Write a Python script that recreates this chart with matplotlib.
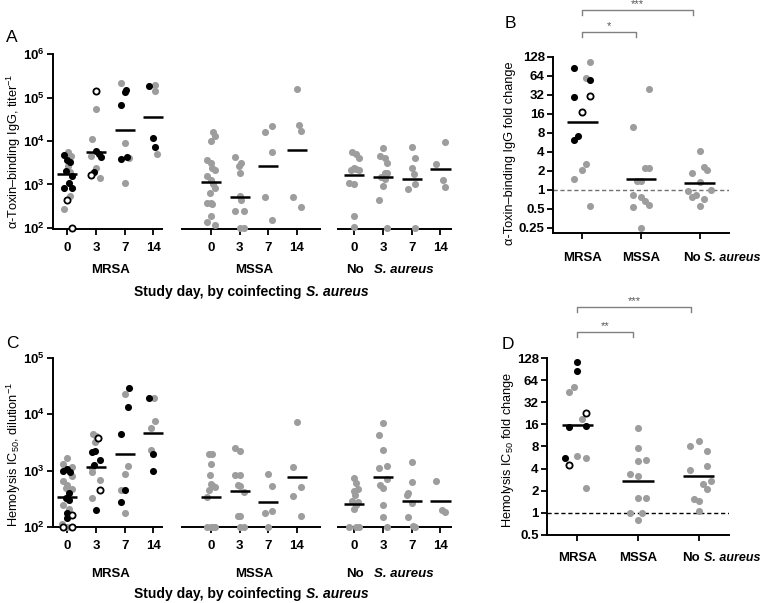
import matplotlib
matplotlib.use('Agg')
import matplotlib.pyplot as plt
import matplotlib.transforms as mtransforms
from matplotlib.ticker import NullLocator, FixedLocator

plt.rcParams['font.family'] = ['Liberation Sans', 'DejaVu Sans']
plt.rcParams['mathtext.fontset'] = 'custom'
plt.rcParams['mathtext.rm'] = 'Liberation Sans'
plt.rcParams['mathtext.it'] = 'Liberation Sans:italic'
plt.rcParams['mathtext.bf'] = 'Liberation Sans:bold'

GREY = '#9d9d9d'

# ---------------- data ----------------
days = ['0', '3', '7', '14']
groups = ['MRSA', 'MSSA', 'No']

# Panel A: alpha-toxin-binding IgG titer, by group and day
titer_MRSA = [[4800, 5500, 4600, 3600, 3300, 2600, 2000, 1900, 1550, 1070, 830, 830, 540, 440, 280, 100],
              [144000, 54000, 11200, 6000, 5000, 4400, 4200, 2450, 1960, 1650, 1380],
              [215000, 150000, 132000, 68000, 9100, 4300, 4000, 3800, 1070],
              [190000, 187000, 140000, 11500, 7400, 5000]]
titer_MRSA_kind = ['kggkkgkgkkkkgogo', 'oggkkgkgkog', 'gkkkgkgkg', 'gkgkkg']
titer_MRSA_jit = [[-0.12, 0.01, 0.12, -0.02, 0.10, 0.02, -0.03, 0.08, 0.18, 0.06, -0.12, 0.16, 0.08, 0.0, -0.12, 0.15],
                  [0.0, 0.0, -0.14, -0.01, 0.12, -0.16, 0.17, 0.0, -0.06, -0.16, 0.13],
                  [-0.14, 0.05, 0.0, -0.14, 0.0, 0.07, 0.15, -0.14, 0.0],
                  [0.06, -0.14, 0.05, 0.0, 0.06, 0.14]]
titer_MSSA = [[16000, 13000, 10200, 3600, 3100, 2350, 2100, 1590, 1260, 1020, 810, 620, 380, 380, 365, 186, 138, 120],
              [4350, 3100, 2700, 1800, 530, 440, 250, 250, 100, 100],
              [22500, 16000, 5500, 520, 150],
              [158000, 23500, 17000, 520, 300]]
titer_MSSA_jit = [[0.09, 0.13, 0.0, -0.14, 0.0, 0.03, 0.13, -0.14, 0.0, 0.07, 0.13, -0.02, -0.14, 0.0, 0.03, 0.0, -0.14, 0.15],
                  [-0.15, 0.05, -0.03, 0.0, 0.0, 0.05, -0.15, 0.14, 0.0, 0.14],
                  [0.14, -0.13, 0.14, -0.13, 0.14],
                  [0.0, 0.07, 0.13, -0.14, 0.13]]
titer_No = [[5700, 5000, 4000, 2450, 2230, 2150, 2100, 1070, 1020, 186, 105],
            [7000, 4550, 4000, 3100, 1860, 1800, 1450, 1310, 920, 440, 100],
            [7100, 4150, 2420, 1700, 1000, 770, 100],
            [9300, 2900, 1260, 890]]
titer_No_jit = [[-0.08, 0.06, 0.15, 0.0, 0.06, -0.12, 0.15, -0.17, 0.0, 0.0, 0.0],
                [0.0, -0.09, 0.06, 0.14, 0.06, 0.12, -0.06, 0.06, -0.02, -0.15, 0.12],
                [0.0, 0.12, 0.0, 0.06, 0.12, -0.12, 0.12],
                [0.14, -0.14, 0.08, 0.14]]
titer_MRSA_med = [1700, 5700, 18000, 35700]
titer_MSSA_med = [1150, 520, 2700, 6200]
titer_No_med = [1650, 1510, 1360, 2270]

# Panel C: hemolysis IC50
ic50_MRSA = [[1700, 1300, 1150, 1000, 1050, 950, 800, 650, 550, 500, 470, 400, 330, 300, 250, 210, 180, 165, 145, 115, 100, 100, 100],
             [4500, 4150, 3800, 3200, 2200, 2100, 1550, 1250, 1100, 930, 670, 450, 330, 200],
             [28800, 22300, 13200, 4460, 1230, 870, 460, 450, 280, 180],
             [19500, 19000, 7500, 5600, 2360, 1930, 990]]
ic50_MRSA_kind = ['gggkkkgggggkkkggkokgoog', 'ggogkkkkgggogk', 'kgkkgggkkg', 'kggggkk']
ic50_MRSA_jit = [[0.0, -0.15, 0.15, -0.15, 0.0, 0.1, 0.18, -0.15, 0.0, -0.05, 0.15, 0.05, -0.05, 0.05, -0.15, 0.05, 0.0, 0.15, -0.02, -0.18, -0.15, 0.15, 0.0],
                 [-0.1, 0.0, 0.08, -0.03, -0.05, -0.14, 0.13, -0.08, -0.14, -0.14, 0.13, 0.13, -0.14, 0.0],
                 [0.15, 0.0, 0.13, -0.14, 0.13, 0.0, -0.14, 0.0, -0.14, 0.0],
                 [-0.14, 0.02, 0.05, -0.07, -0.09, 0.0, 0.0]]
ic50_MSSA = [[1940, 1940, 1310, 820, 580, 525, 505, 460, 340, 100, 100, 100, 100],
             [2500, 2240, 820, 820, 550, 540, 415, 154, 154, 100, 100],
             [870, 530, 195, 180, 100],
             [7400, 1140, 510, 350, 158]]
ic50_MSSA_jit = [[-0.08, 0.03, 0.0, -0.02, 0.0, 0.06, 0.15, -0.08, -0.14, -0.14, 0.0, 0.09, 0.15],
                 [-0.15, 0.02, -0.15, 0.02, -0.06, 0.0, 0.14, -0.07, 0.02, 0.02, 0.14],
                 [0.0, 0.14, 0.14, -0.13, 0.0],
                 [0.0, -0.14, 0.13, -0.14, 0.13]]
ic50_No = [[740, 600, 480, 440, 375, 290, 280, 250, 205, 100, 100, 100],
           [6900, 4300, 2300, 1230, 1100, 715, 550, 490, 250, 148, 100],
           [1400, 630, 400, 375, 270, 148, 104, 100],
           [660, 198, 187]]
ic50_No_jit = [[0.0, 0.06, 0.12, 0.0, 0.03, -0.08, 0.12, 0.06, -0.03, -0.17, 0.06, 0.15],
               [0.0, -0.15, 0.0, 0.12, -0.14, 0.12, -0.09, 0.0, 0.0, 0.0, 0.14],
               [0.0, 0.0, -0.12, -0.17, 0.0, -0.12, 0.03, 0.12],
               [-0.14, 0.06, 0.14]]
ic50_MRSA_med = [340, 1180, 1950, 4600]
ic50_MSSA_med = [345, 440, 278, 760]
ic50_No_med = [260, 775, 295, 285]

# Panel B: IgG fold change
fcB_MRSA = [106, 87, 60, 56, 30.5, 29.3, 17.2, 7.2, 6.3, 2.56, 2.07, 1.47, 0.55]
fcB_MRSA_kind = 'gkgkokokkgggg'
fcB_MRSA_jit = [0.13, -0.14, 0.07, 0.13, 0.13, -0.14, 0.0, -0.07, -0.14, 0.07, 0.0, -0.14, 0.13]
fcB_MSSA = [39.5, 10.1, 2.26, 2.2, 1.38, 1.38, 0.82, 0.77, 0.66, 0.57, 0.53, 0.25]
fcB_MSSA_jit = [0.13, -0.13, 0.07, 0.13, -0.07, 0.0, -0.13, 0.0, 0.07, 0.13, -0.13, 0.0]
fcB_No = [4.2, 2.35, 2.07, 1.83, 1.35, 1.0, 0.95, 0.82, 0.77, 0.71, 0.55]
fcB_No_jit = [0.0, 0.07, 0.13, -0.13, 0.0, 0.2, -0.2, -0.07, -0.13, 0.07, 0.0]
fcB_med = [11.9, 1.49, 1.27]

# Panel D: hemolysis IC50 fold change
fcD_MRSA = [113, 86, 52, 43.5, 22.6, 18.7, 15.4, 14.6, 6.0, 5.6, 5.6, 4.5, 2.16]
fcD_MRSA_kind = 'kkggogkkgkgog'
fcD_MRSA_jit = [0.0, 0.0, -0.06, -0.13, 0.14, 0.07, 0.14, -0.13, 0.0, -0.2, 0.14, -0.13, 0.14]
fcD_MSSA = [14.4, 7.7, 5.3, 5.1, 3.37, 3.14, 1.6, 1.6, 1.0, 1.0, 0.81]
fcD_MSSA_jit = [0.0, 0.0, 0.14, 0.0, -0.13, 0.0, 0.0, 0.14, -0.13, 0.07, 0.0]
fcD_No = [9.5, 8.2, 7.0, 4.4, 3.86, 2.68, 2.5, 2.14, 1.56, 1.47, 1.07]
fcD_No_jit = [0.0, -0.14, 0.14, 0.14, -0.14, 0.2, 0.07, 0.14, -0.07, 0.0, 0.0]
fcD_med = [15.7, 2.74, 3.14]

# ---------------- drawing ----------------
fig = plt.figure(figsize=(7.6, 6.03), dpi=100)

def pts(ax, x0, vals, kinds, jit, med, hw):
    if kinds is None:
        kinds = 'g' * len(vals)
    styles = [('g', dict(c=GREY, linewidths=0)),
              ('k', dict(c='k', linewidths=0)),
              ('o', dict(facecolors='white', edgecolors='k', linewidths=1.3))]
    for kk, st in styles:
        xs = [x0 + j for j, k in zip(jit, kinds) if k == kk]
        ys = [v for v, k in zip(vals, kinds) if k == kk]
        if xs:
            ax.scatter(xs, ys, s=26 if kk != 'o' else 20, zorder=3, clip_on=False, **st)
    ax.plot([x0 - hw, x0 + hw], [med, med], color='k', lw=1.8, zorder=4, solid_capstyle='butt')

def style_common(ax):
    for s in ['top', 'right']:
        ax.spines[s].set_visible(False)
    ax.spines['left'].set_linewidth(1.4)
    ax.spines['bottom'].set_linewidth(1.4)
    ax.yaxis.set_minor_locator(NullLocator())
    ax.tick_params(axis='both', direction='out', length=4, width=1.3, labelsize=9.5)

def time_panel(ax, data, kinds, jits, meds, ylim, yticks, ytlabels, grp_y):
    ax.set_yscale('log')
    offsets = [0, 5, 10]
    for gi in range(3):
        for d in range(4):
            k = kinds[gi][d] if kinds[gi] is not None else None
            pts(ax, offsets[gi] + d, data[gi][d], k, jits[gi][d], meds[gi][d], 0.35)
    ax.set_xlim(-0.5, 13.4)
    ax.set_ylim(*ylim)
    style_common(ax)
    ax.yaxis.set_major_locator(FixedLocator(yticks))
    ax.set_yticklabels(ytlabels)
    ax.tick_params(axis='y', pad=2)
    xt = [o + d for o in offsets for d in range(4)]
    ax.set_xticks(xt)
    ax.set_xticklabels(days * 3, fontweight='bold')
    ax.tick_params(axis='x', pad=5)
    ax.spines['bottom'].set_visible(False)
    tr = mtransforms.blended_transform_factory(ax.transData, ax.transAxes)
    for a, b in [(-0.5, 3.35), (3.95, 8.85), (9.4, 13.4)]:
        ax.plot([a, b], [0, 0], color='k', lw=1.4, transform=tr, clip_on=False,
                solid_capstyle='butt')
    ax.text(1.5, grp_y, 'MRSA', transform=tr, ha='center', va='center', fontsize=9.5, fontweight='bold')
    ax.text(6.5, grp_y, 'MSSA', transform=tr, ha='center', va='center', fontsize=9.5, fontweight='bold')
    ax.text(10.32, grp_y, 'No', transform=tr, ha='right', va='center', fontsize=9.5, fontweight='bold')
    ax.text(10.68, grp_y, 'S. aureus', transform=tr, ha='left', va='center', fontsize=9.5,
            fontweight='bold', fontstyle='italic')

def fold_panel(ax, data, kinds, jits, meds, ylim, yticks, dash_col, lab_y, brackets):
    ax.set_yscale('log', base=2)
    for gi in range(3):
        pts(ax, gi, data[gi], kinds[gi], jits[gi], meds[gi], 0.26)
    ax.axhline(1, ls=(0, (3, 2)), color=dash_col, lw=1.0, zorder=1)
    ax.set_xlim(-0.5, 2.5)
    ax.set_ylim(*ylim)
    style_common(ax)
    ax.yaxis.set_major_locator(FixedLocator(yticks))
    ax.set_yticklabels([('%g' % t) for t in yticks], fontweight='bold')
    ax.tick_params(axis='y', pad=2)
    ax.set_xticks([0, 1, 2])
    ax.set_xticklabels(['', '', ''])
    tr = mtransforms.blended_transform_factory(ax.transData, ax.transAxes)
    ax.text(0, lab_y, 'MRSA', transform=tr, ha='center', va='center', fontsize=9.5, fontweight='bold')
    ax.text(1, lab_y, 'MSSA', transform=tr, ha='center', va='center', fontsize=9.5, fontweight='bold')
    ax.text(2.02, lab_y, 'No', transform=tr, ha='right', va='center', fontsize=9.5, fontweight='bold')
    ax.text(2.08, lab_y, 'S. aureus', transform=tr, ha='left', va='center', fontsize=9,
            fontweight='bold', fontstyle='italic')
    for x1, x2, y, lab in brackets:
        ax.plot([x1, x1, x2, x2], [y - 0.03, y, y, y - 0.03], transform=tr, color='#808080',
                lw=1.0, clip_on=False)
        ax.text((x1 + x2) / 2, y + 0.005, lab, transform=tr, ha='center', va='bottom',
                fontsize=8, color='#555555')

# Panel A
axA = fig.add_axes([0.0697, 0.6197, 0.525, 0.2907])
time_panel(axA, [titer_MRSA, titer_MSSA, titer_No],
           [titer_MRSA_kind, None, None],
           [titer_MRSA_jit, titer_MSSA_jit, titer_No_jit],
           [titer_MRSA_med, titer_MSSA_med, titer_No_med],
           (93, 1e6), [1e2, 1e3, 1e4, 1e5, 1e6],
           [r'$\mathbf{10^{%d}}$' % e for e in range(2, 7)], -0.232)

# Panel C
axC = fig.add_axes([0.0697, 0.126, 0.525, 0.2808])
time_panel(axC, [ic50_MRSA, ic50_MSSA, ic50_No],
           [ic50_MRSA_kind, None, None],
           [ic50_MRSA_jit, ic50_MSSA_jit, ic50_No_jit],
           [ic50_MRSA_med, ic50_MSSA_med, ic50_No_med],
           (100, 1e5), [1e2, 1e3, 1e4, 1e5],
           [r'$\mathbf{10^{%d}}$' % e for e in range(2, 6)], -0.278)

# Panel B
axB = fig.add_axes([0.7276, 0.6136, 0.2316, 0.2919])
fold_panel(axB, [fcB_MRSA, fcB_MSSA, fcB_No], [fcB_MRSA_kind, None, None],
           [fcB_MRSA_jit, fcB_MSSA_jit, fcB_No_jit], fcB_med,
           (0.208, 128), [0.25, 0.5, 1, 2, 4, 8, 16, 32, 64, 128],
           '#707070', -0.142,
           [(0, 1.89, 1.267, '***'), (0, 0.91, 1.142, '*')])

# Panel D
axD = fig.add_axes([0.7197, 0.1128, 0.2395, 0.2935])
fold_panel(axD, [fcD_MRSA, fcD_MSSA, fcD_No], [fcD_MRSA_kind, None, None],
           [fcD_MRSA_jit, fcD_MSSA_jit, fcD_No_jit], fcD_med,
           (0.5, 128), [0.5, 1, 2, 4, 8, 16, 32, 64, 128],
           'k', -0.13,
           [(0, 1.88, 1.288, '***'), (0, 0.92, 1.147, '**')])

# y labels (figure level, centred at measured positions)
for txt, x, y in [('α-Toxin–binding IgG, titer$^{-1}$', 14, 151),
                  ('α-Toxin–binding IgG fold change', 510, 153),
                  ('Hemolysis IC$_{50}$, dilution$^{-1}$', 14, 455),
                  ('Hemolysis IC$_{50}$ fold change', 508, 450)]:
    fig.text(x / 760, 1 - y / 603, txt, rotation=90, ha='center', va='center', fontsize=9.2)

# x labels (figure level)
for yy in [1 - 292 / 603, 1 - 594 / 603]:
    fig.text(305 / 760, yy, 'Study day, by coinfecting ', ha='right', va='center',
             fontsize=10, fontweight='bold')
    fig.text(306 / 760, yy, 'S. aureus', ha='left', va='center', fontsize=10,
             fontweight='bold', fontstyle='italic')

# panel letters
for lab, x, y in [('A', 12, 37), ('B', 510, 24), ('C', 12, 343), ('D', 508, 345)]:
    fig.text(x / 760, 1 - y / 603, lab, ha='center', va='center', fontsize=12.5)

fig.savefig('out.png', dpi=100)
